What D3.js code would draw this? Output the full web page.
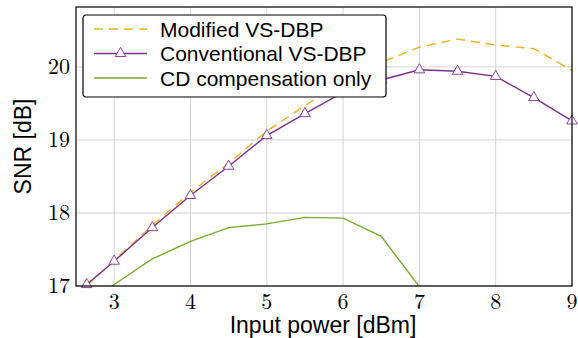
<!DOCTYPE html>
<html>
<head>
<meta charset="utf-8">
<script src="https://cdn.jsdelivr.net/npm/d3@7"></script>
<style>
  body { margin: 0; background: #fff; }
  svg { display: block; }
</style>
</head>
<body>
<div id="chart"></div>
<script>
// input power [dBm]
var powerX = [2.64, 3, 3.5, 4, 4.5, 5, 5.5, 6, 6.5, 7, 7.5, 8, 8.5, 9];
var modifiedSNR = [17.0, 17.35, 17.83, 18.28, 18.68, 19.12, 19.47, 19.8, 20.06, 20.27, 20.38, 20.3, 20.25, 19.95];
var conventionalSNR = [17.02, 17.34, 17.8, 18.24, 18.64, 19.06, 19.36, 19.65, 19.82, 19.96, 19.94, 19.87, 19.58, 19.26];
var cdX = [2.64, 3, 3.5, 4, 4.5, 5, 5.5, 6, 6.5, 7];
var cdSNR = [16.75, 17.02, 17.37, 17.61, 17.8, 17.85, 17.94, 17.93, 17.68, 16.99];
var xTicks = [3, 4, 5, 6, 7, 8, 9];
var yTicks = [17, 18, 19, 20];
var legendLabels = ["Modified VS-DBP", "Conventional VS-DBP", "CD compensation only"];

var W = 578, H = 338;
var margin = {top: 7, right: 6, bottom: 52, left: 76};
var width = W - margin.left - margin.right;
var height = H - margin.top - margin.bottom;

var svg = d3.select("#chart").append("svg")
  .attr("width", W)
  .attr("height", H);

var g = svg.append("g")
  .attr("transform", `translate(${margin.left},${margin.top})`);

var x = d3.scaleLinear().domain([2.5, 9]).range([0, width]);
var y = d3.scaleLinear().domain([17, 20.82]).range([height, 0]);

// grid
g.selectAll(".gx").data(xTicks).enter().append("line")
  .attr("x1", d => x(d)).attr("x2", d => x(d))
  .attr("y1", 0).attr("y2", height)
  .attr("stroke", "#d4d4d4").attr("stroke-width", 1);
g.selectAll(".gy").data(yTicks).enter().append("line")
  .attr("x1", 0).attr("x2", width)
  .attr("y1", d => y(d)).attr("y2", d => y(d))
  .attr("stroke", "#d4d4d4").attr("stroke-width", 1);

// tick labels
var serif = "'Latin Modern Roman', 'Liberation Serif', 'DejaVu Serif', serif";
g.selectAll(".xl").data(xTicks).enter().append("text")
  .attr("x", d => x(d)).attr("y", height + 23)
  .attr("text-anchor", "middle")
  .attr("font-family", serif).attr("font-size", 22)
  .text(d => d);
g.selectAll(".yl").data(yTicks).enter().append("text")
  .attr("x", -6).attr("y", d => y(d)).attr("dy", "0.34em")
  .attr("text-anchor", "end")
  .attr("font-family", serif).attr("font-size", 22)
  .text(d => d);

// clip
svg.append("defs").append("clipPath").attr("id", "clip")
  .append("rect").attr("width", width).attr("height", height);

var plot = g.append("g").attr("clip-path", "url(#clip)");

var line = d3.line().x(d => x(d[0])).y(d => y(d[1]));

plot.append("path")
  .datum(d3.zip(cdX, cdSNR))
  .attr("d", line)
  .attr("fill", "none").attr("stroke", "#77AC30").attr("stroke-width", 1.4);

plot.append("path")
  .datum(d3.zip(powerX, modifiedSNR))
  .attr("d", line)
  .attr("fill", "none").attr("stroke", "#EDB120").attr("stroke-width", 1.4)
  .attr("stroke-dasharray", "9,6");

plot.append("path")
  .datum(d3.zip(powerX, conventionalSNR))
  .attr("d", line)
  .attr("fill", "none").attr("stroke", "#7E2F8E").attr("stroke-width", 1.4);

var tri = d3.symbol().type(d3.symbolTriangle).size(48);
g.selectAll(".mk").data(d3.zip(powerX, conventionalSNR)).enter().append("path")
  .attr("d", tri)
  .attr("transform", d => `translate(${x(d[0])},${y(d[1])})`)
  .attr("fill", "#fff").attr("stroke", "#7E2F8E").attr("stroke-width", 0.9);

// frame
g.append("rect")
  .attr("width", width).attr("height", height)
  .attr("fill", "none").attr("stroke", "#000").attr("stroke-width", 1.2);

// axis labels
var sans = "'Liberation Sans', Arial, Helvetica, sans-serif";
svg.append("text")
  .attr("x", margin.left + width / 2 - 1).attr("y", 333)
  .attr("text-anchor", "middle")
  .attr("font-family", sans).attr("font-size", 23)
  .text("Input power [dBm]");
svg.append("text")
  .attr("transform", `translate(31,${margin.top + height / 2})rotate(-90)`)
  .attr("text-anchor", "middle")
  .attr("font-family", sans).attr("font-size", 23)
  .text("SNR [dB]");

// legend
var leg = svg.append("g").attr("transform", "translate(83,15)");
leg.append("rect")
  .attr("width", 303).attr("height", 82).attr("rx", 3)
  .attr("fill", "#fff").attr("stroke", "#000").attr("stroke-width", 1.2);
var rows = [
  {color: "#EDB120", dash: "9,6", marker: false},
  {color: "#7E2F8E", dash: null, marker: true},
  {color: "#77AC30", dash: null, marker: false}
];
rows.forEach(function(r, i) {
  var yy = 14 + i * 24.5;
  leg.append("line")
    .attr("x1", 11).attr("x2", 64).attr("y1", yy).attr("y2", yy)
    .attr("stroke", r.color).attr("stroke-width", 1.4)
    .attr("stroke-dasharray", r.dash);
  if (r.marker) {
    leg.append("path").attr("d", tri)
      .attr("transform", `translate(37.5,${yy})`)
      .attr("fill", "#fff").attr("stroke", r.color).attr("stroke-width", 0.9);
  }
  leg.append("text")
    .attr("x", 77).attr("y", yy).attr("dy", "0.36em")
    .attr("font-family", sans).attr("font-size", 21)
    .text(legendLabels[i]);
});
</script>
</body>
</html>
